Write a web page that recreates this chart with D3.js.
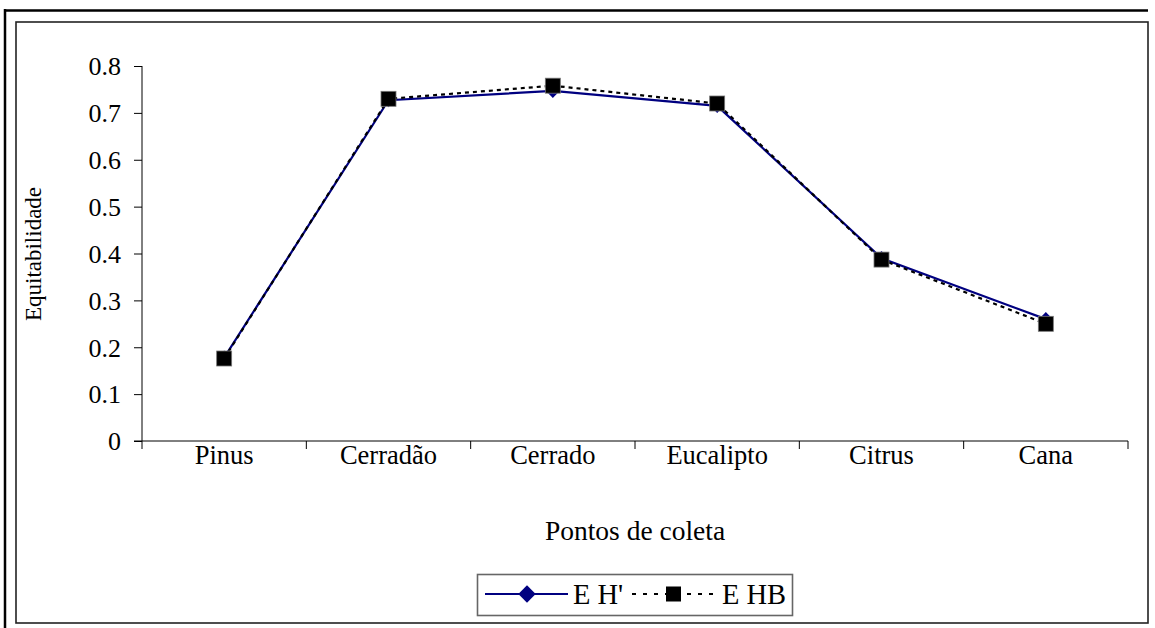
<!DOCTYPE html>
<html>
<head>
<meta charset="utf-8">
<script src="https://cdn.jsdelivr.net/npm/d3@7/dist/d3.min.js"></script>
<style>
  html, body { margin: 0; padding: 0; background: #fff; }
  svg { display: block; }
</style>
</head>
<body>
<script>
// Sampling sites and evenness indices
const categories = ["Pinus", "Cerradão", "Cerrado", "Eucalipto", "Citrus", "Cana"];
const eH = [0.178, 0.727, 0.747, 0.715, 0.390, 0.260];   // E H'
const eHB = [0.176, 0.730, 0.758, 0.720, 0.387, 0.250];  // E HB
const yTicks = [0, 0.1, 0.2, 0.3, 0.4, 0.5, 0.6, 0.7, 0.8];
const seriesNames = ["E H'", "E HB"];

const styleText = (sel, size) => sel
  .attr("font-family", "Liberation Serif").attr("font-size", size)
  .style("font-family", '"Liberation Serif"').attr("fill", "#000");

const W = 1155, H = 628;
const svg = d3.select("body").append("svg").attr("width", W).attr("height", H)
  .attr("font-family", "Liberation Serif");

// Frame lines
svg.append("line").attr("x1", 4).attr("x2", 1148).attr("y1", 10.5).attr("y2", 10.5)
  .attr("stroke", "#000").attr("stroke-width", 2.5);
svg.append("line").attr("x1", 5).attr("x2", 5).attr("y1", 9).attr("y2", 628)
  .attr("stroke", "#000").attr("stroke-width", 2.5);
svg.append("rect").attr("x", 16).attr("y", 22).attr("width", 1132).attr("height", 601)
  .attr("fill", "none").attr("stroke", "#222").attr("stroke-width", 1.6);

const plot = { left: 142, right: 1128, top: 66, bottom: 441 };

const x = d3.scaleBand().domain(categories).range([plot.left, plot.right]);
const y = d3.scaleLinear().domain([0, 0.8]).range([plot.bottom, plot.top]);

// Y axis
const yAxis = svg.append("g").attr("transform", `translate(${plot.left},0)`)
  .call(d3.axisLeft(y).tickValues(yTicks).tickSize(8).tickPadding(13)
    .tickFormat(d => d === 0 ? "0" : d3.format(".1f")(d)));
yAxis.attr("font-family", "Liberation Serif").attr("font-size", 26);
yAxis.select(".domain").remove();
yAxis.append("line").attr("x1", 0).attr("x2", 0).attr("y1", plot.top).attr("y2", plot.bottom)
  .attr("stroke", "#000");
yAxis.selectAll(".tick line").attr("stroke", "#000");
yAxis.selectAll("text").call(styleText, 26).attr("dy", "0.34em");

// X axis: ticks on category boundaries
const xg = svg.append("g").attr("transform", `translate(0,${plot.bottom})`);
xg.append("line").attr("x1", plot.left - 8).attr("x2", plot.right).attr("y1", 0).attr("y2", 0)
  .attr("stroke", "#000");
const bounds = categories.map(c => x(c)).concat([plot.right]);
xg.selectAll("line.tk").data(bounds).join("line").attr("class", "tk")
  .attr("x1", d => d).attr("x2", d => d).attr("y1", 0).attr("y2", 8).attr("stroke", "#000");
xg.selectAll("text").data(categories).join("text")
  .attr("x", d => x(d) + x.bandwidth() / 2).attr("y", 23)
  .attr("text-anchor", "middle").call(styleText, 26.5).text(d => d);

// Axis titles
svg.append("text").attr("x", 635).attr("y", 540)
  .attr("text-anchor", "middle").call(styleText, 27.5).text("Pontos de coleta");
svg.append("text").attr("transform", "translate(41,254) rotate(-90)")
  .attr("text-anchor", "middle").call(styleText, 23).text("Equitabilidade");

const cx = (d, i) => x(categories[i]) + x.bandwidth() / 2;
const line = d3.line().x((d, i) => cx(d, i)).y(d => y(d));

// E H' series: navy solid line with diamonds
svg.append("path").datum(eH).attr("d", line).attr("fill", "none")
  .attr("stroke", "#000080").attr("stroke-width", 2.2);
svg.selectAll("path.dm").data(eH).join("path").attr("class", "dm")
  .attr("transform", (d, i) => `translate(${cx(d, i)},${y(d)}) rotate(45)`)
  .attr("d", d3.symbol().type(d3.symbolSquare).size(100)).attr("fill", "#000080");

// E HB series: black dotted line with squares
svg.append("path").datum(eHB).attr("d", line).attr("fill", "none")
  .attr("stroke", "#000").attr("stroke-width", 2.2).attr("stroke-dasharray", "4,4");
svg.selectAll("rect.sq").data(eHB).join("rect").attr("class", "sq")
  .attr("x", (d, i) => cx(d, i) - 7.5).attr("y", d => y(d) - 7.5)
  .attr("width", 15).attr("height", 15).attr("fill", "#000")
  .attr("stroke", "#777").attr("stroke-width", 0.8);

// Legend
const lg = svg.append("g");
lg.append("rect").attr("x", 477.5).attr("y", 574.5).attr("width", 315).attr("height", 41)
  .attr("fill", "#fff").attr("stroke", "#666").attr("stroke-width", 1.6);
const ly = 594;
lg.append("line").attr("x1", 485).attr("x2", 568).attr("y1", ly).attr("y2", ly)
  .attr("stroke", "#000080").attr("stroke-width", 2.2);
lg.append("path").attr("transform", `translate(527,${ly}) rotate(45)`)
  .attr("d", d3.symbol().type(d3.symbolSquare).size(150)).attr("fill", "#000080");
lg.append("text").attr("x", 573).attr("y", ly + 10).call(styleText, 28.5).text(seriesNames[0]);
lg.append("line").attr("x1", 632).attr("x2", 718).attr("y1", ly).attr("y2", ly)
  .attr("stroke", "#000").attr("stroke-width", 2.2).attr("stroke-dasharray", "4,7");
lg.append("rect").attr("x", 666).attr("y", ly - 7.5).attr("width", 15).attr("height", 15)
  .attr("fill", "#000");
lg.append("text").attr("x", 722).attr("y", ly + 10).call(styleText, 28.5).text(seriesNames[1]);
</script>
</body>
</html>
